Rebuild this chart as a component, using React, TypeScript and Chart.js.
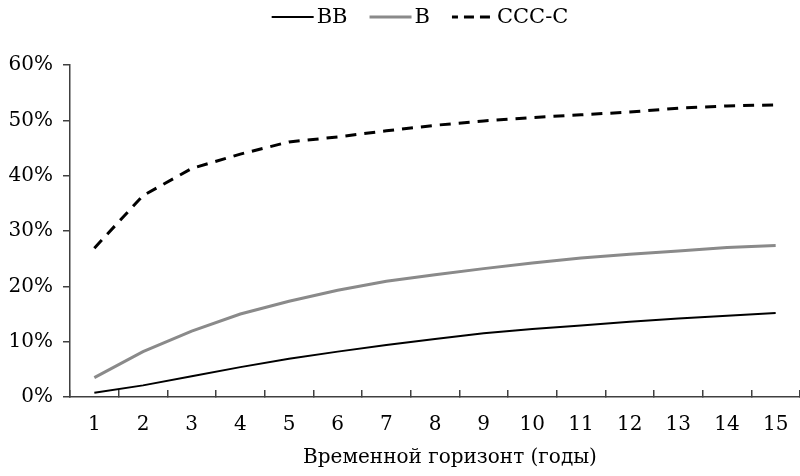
import React, { useEffect, useRef } from 'react';
import { Chart, registerables } from 'chart.js';

Chart.register(...registerables);

const categories = ['1', '2', '3', '4', '5', '6', '7', '8', '9', '10', '11', '12', '13', '14', '15'];
const seriesBB = [0.75, 2.1, 3.75, 5.4, 6.9, 8.2, 9.4, 10.5, 11.5, 12.3, 12.9, 13.6, 14.2, 14.7, 15.2];
const seriesB = [3.5, 8.2, 11.9, 15.0, 17.3, 19.3, 20.9, 22.1, 23.2, 24.2, 25.1, 25.8, 26.4, 27.0, 27.4];
const seriesCCC = [26.9, 36.4, 41.3, 43.9, 46.1, 47.0, 48.1, 49.1, 49.9, 50.5, 51.0, 51.5, 52.2, 52.6, 52.8];
const seriesLabels = ['BB', 'B', 'CCC-C'];
const yTicks = [0, 10, 20, 30, 40, 50, 60];
const xTitle = 'Временной горизонт (годы)';

const FONT_FAMILY = '"DejaVu Serif", serif';
const FONT_SIZE = 20;
const AXIS_COLOR = '#404040';

const legendPlugin = {
  id: 'customLegend',
  afterDraw(chart: any) {
    const ctx = chart.ctx as CanvasRenderingContext2D;
    ctx.save();
    ctx.font = `21px ${FONT_FAMILY}`;
    ctx.textBaseline = 'middle';
    ctx.textAlign = 'left';
    const lineLen = 42;
    const gapText = 3;
    const gapItem = 22;
    const items = chart.data.datasets.map((ds: any) => ({
      label: ds.label as string,
      color: ds.borderColor as string,
      width: ds.borderWidth as number,
      dash: (ds.borderDash || []) as number[],
      textW: ctx.measureText(ds.label).width,
    }));
    const total =
      items.reduce((s: number, it: any) => s + lineLen + gapText + it.textW, 0) + gapItem * (items.length - 1);
    const centerX = 420;
    const y = 17;
    let x = centerX - total / 2;
    for (const it of items) {
      ctx.beginPath();
      ctx.strokeStyle = it.color;
      ctx.lineWidth = it.width;
      if (it.dash.length) {
        ctx.setLineDash([10, 6]);
        ctx.lineDashOffset = 4;
      } else {
        ctx.setLineDash([]);
      }
      ctx.moveTo(x, y);
      ctx.lineTo(x + lineLen, y);
      ctx.stroke();
      ctx.setLineDash([]);
      ctx.lineDashOffset = 0;
      ctx.fillStyle = '#000';
      ctx.fillText(it.label, x + lineLen + gapText, y + 1);
      x += lineLen + gapText + it.textW + gapItem;
    }
    ctx.restore();
  },
};

const xTitlePlugin = {
  id: 'xTitle',
  afterDraw(chart: any) {
    const ctx = chart.ctx as CanvasRenderingContext2D;
    ctx.save();
    ctx.font = `${FONT_SIZE}px ${FONT_FAMILY}`;
    ctx.textBaseline = 'middle';
    ctx.textAlign = 'center';
    ctx.fillStyle = '#000';
    ctx.fillText(xTitle, 450, 458);
    ctx.restore();
  },
};

export default function App() {
  const canvasRef = useRef<HTMLCanvasElement | null>(null);

  useEffect(() => {
    document.body.style.margin = '0';
    const canvas = canvasRef.current;
    if (!canvas) return;
    const font = { family: FONT_FAMILY, size: FONT_SIZE };
    const chart = new Chart(canvas, {
      type: 'line',
      data: {
        labels: categories,
        datasets: [
          {
            label: seriesLabels[0],
            data: seriesBB,
            borderColor: '#000000',
            backgroundColor: '#000000',
            borderWidth: 2,
            pointRadius: 0,
            tension: 0,
          },
          {
            label: seriesLabels[1],
            data: seriesB,
            borderColor: '#8a8a8a',
            backgroundColor: '#8a8a8a',
            borderWidth: 3,
            pointRadius: 0,
            tension: 0,
          },
          {
            label: seriesLabels[2],
            data: seriesCCC,
            borderColor: '#000000',
            backgroundColor: '#000000',
            borderWidth: 3,
            borderDash: [11, 8],
            pointRadius: 0,
            tension: 0,
          },
        ],
      },
      options: {
        responsive: false,
        animation: false,
        layout: { padding: { top: 65, right: 0, left: 0, bottom: 0 } },
        plugins: {
          legend: { display: false },
          tooltip: { enabled: false },
        },
        scales: {
          x: {
            type: 'category',
            offset: true,
            grid: {
              offset: true,
              drawOnChartArea: false,
              drawTicks: true,
              tickLength: -7,
              color: AXIS_COLOR,
              lineWidth: 1.5,
            },
            border: { display: true, color: AXIS_COLOR, width: 1.5 },
            ticks: { font, color: '#000', padding: 23, maxRotation: 0, autoSkip: false },
            title: { display: false },
            afterFit: (s: any) => {
              s.height = 79;
              s.paddingRight = 0;
              s.paddingLeft = 0;
            },
          },
          y: {
            min: yTicks[0],
            max: yTicks[yTicks.length - 1],
            afterBuildTicks: (s: any) => {
              s.ticks = yTicks.map((v) => ({ value: v }));
            },
            ticks: {
              font,
              color: '#000',
              padding: 10,
              callback: (v: any) => `${v}%`,
            },
            grid: {
              drawOnChartArea: false,
              drawTicks: true,
              tickLength: 7,
              color: AXIS_COLOR,
              lineWidth: 1.5,
            },
            border: { display: true, color: AXIS_COLOR, width: 1.5 },
            afterFit: (s: any) => {
              s.width = 70;
            },
          },
        },
      },
      plugins: [legendPlugin, xTitlePlugin],
    });
    return () => {
      chart.destroy();
    };
  }, []);

  return (
    <div style={{ position: 'absolute', left: 0, top: 0, width: 800, height: 476 }}>
      <canvas ref={canvasRef} width={800} height={476} />
    </div>
  );
}
